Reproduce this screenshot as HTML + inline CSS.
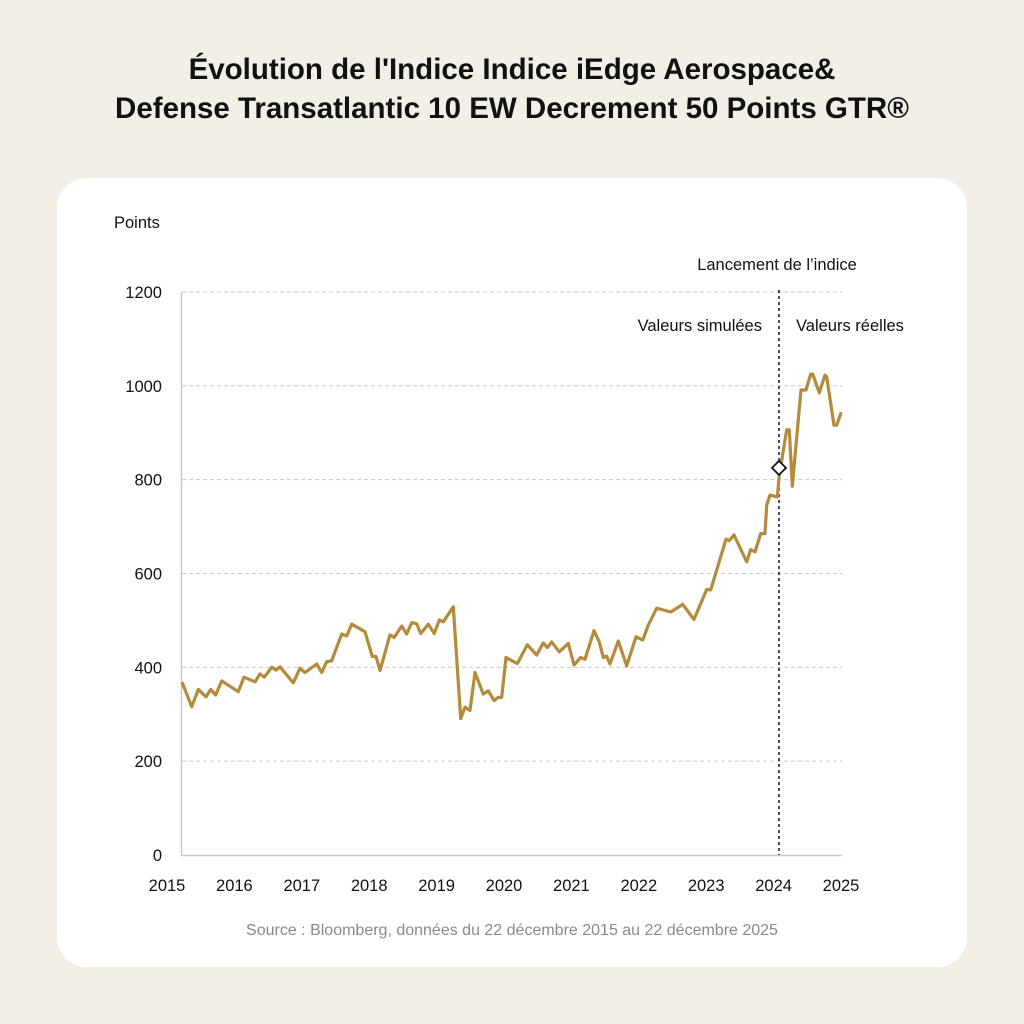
<!DOCTYPE html>
<html><head><meta charset="utf-8"><style>
html,body{margin:0;padding:0;width:1024px;height:1024px;background:#f3efe6;overflow:hidden;font-family:"Liberation Sans",sans-serif;}
#title{position:absolute;left:0;top:50px;width:1024px;text-align:center;font-size:29.5px;line-height:39px;color:#111;font-weight:bold;}
#card{position:absolute;left:57px;top:178px;width:910px;height:789px;background:#fff;border-radius:30px;}
svg{position:absolute;left:0;top:0;}
</style></head><body>
<div id="title">Évolution de l'Indice Indice iEdge Aerospace&amp;<br>Defense Transatlantic 10 EW Decrement 50 Points GTR®</div>
<div id="card"></div>
<svg id="chart" width="1024" height="1024"></svg>
<script>
const yearLabels=["2015","2016","2017","2018","2019","2020","2021","2022","2023","2024","2025"];
const yTicks=[0,200,400,600,800,1000,1200];
const tOffsets=[0.23,0.366,0.464,0.579,0.648,0.723,0.812,1.058,1.142,1.306,1.380,1.444,1.553,1.617,1.677,1.874,1.973,2.047,2.221,2.295,2.369,2.444,2.592,2.666,2.740,2.938,3.046,3.101,3.160,3.309,3.372,3.482,3.556,3.630,3.705,3.764,3.877,3.966,4.040,4.099,4.248,4.358,4.421,4.496,4.570,4.693,4.767,4.852,4.915,4.966,5.030,5.197,5.346,5.485,5.583,5.642,5.708,5.821,5.954,6.039,6.138,6.202,6.335,6.414,6.473,6.524,6.573,6.696,6.821,6.958,7.058,7.141,7.266,7.473,7.651,7.819,8.007,8.067,8.294,8.343,8.412,8.601,8.660,8.724,8.809,8.872,8.898,8.947,9.055,9.085,9.194,9.233,9.278,9.407,9.481,9.550,9.580,9.678,9.763,9.788,9.896,9.936,9.996];
const values=[366,316,353,337,353,341,371,348,379,369,386,379,400,394,401,367,398,389,407,389,412,414,471,467,492,476,423,423,393,469,464,488,471,495,493,472,492,472,501,497,529,291,315,308,389,343,350,329,336,336,421,408,448,426,452,442,454,433,451,405,421,417,478,454,421,424,407,456,403,465,458,490,526,518,534,502,566,565,673,670,682,625,651,646,685,685,746,767,763,810,906,906,786,991,991,1025,1025,985,1023,1019,916,916,941];
const launchT=9.08, launchV=825;
const NS="http://www.w3.org/2000/svg";
const svg=document.getElementById('chart');
const X=t=>167+t*67.4;
const Y=v=>855-v*0.4692;
function mk(tag,attrs,txt){const e=document.createElementNS(NS,tag);for(const k in attrs)e.setAttribute(k,attrs[k]);if(txt!==undefined)e.textContent=txt;svg.appendChild(e);return e;}
const F='"Liberation Sans",sans-serif';
yTicks.forEach(v=>{
  if(v>0){const g=mk('line',{x1:182,x2:842,y1:Y(v),y2:Y(v),stroke:'#c8c8c8','stroke-width':1,'stroke-dasharray':'4,3'});
  
  }
  const l=mk('text',{x:162,y:Y(v)+6,'text-anchor':'end','font-size':16.5,fill:'#111','font-family':F},String(v));
  
  
});
const ax=mk('path',{d:'M181.5 292 V855.5 H842',fill:'none',stroke:'#c8c8c8','stroke-width':1.5});


yearLabels.forEach((s,i)=>{
  const l=mk('text',{x:X(i),y:891,'text-anchor':'middle','font-size':16.5,fill:'#111','font-family':F},s);
  
  
});
const yt=mk('text',{x:114,y:228,'font-size':16.5,fill:'#111','font-family':F},'Points');


const vl=mk('line',{x1:X(launchT),x2:X(launchT),y1:290,y2:855,stroke:'#111','stroke-width':1.5,'stroke-dasharray':'3,3'});


const t1=mk('text',{x:777,y:270,'text-anchor':'middle','font-size':16.5,fill:'#111','font-family':F},'Lancement de l\u2019indice');


const t2=mk('text',{x:762,y:331,'text-anchor':'end','font-size':16.5,fill:'#111','font-family':F},'Valeurs simulées');


const t3=mk('text',{x:796,y:331,'font-size':16.5,fill:'#111','font-family':F},'Valeurs réelles');


const d=tOffsets.map((t,i)=>(i?'L':'M')+X(t).toFixed(1)+' '+Y(values[i]).toFixed(1)).join(' ');
const ln=mk('path',{d:d,fill:'none',stroke:'#b38b3b','stroke-width':3.2,'stroke-linejoin':'round','stroke-linecap':'round'});


const cx=X(launchT),cy=Y(launchV);
const dm=mk('path',{d:`M${cx} ${cy-7} L${cx+7} ${cy} L${cx} ${cy+7} L${cx-7} ${cy} Z`,fill:'#fff',stroke:'#111','stroke-width':1.8});


const src=mk('text',{x:512,y:935,'text-anchor':'middle','font-size':16,fill:'#8a8a80','font-family':F},'Source : Bloomberg, données du 22 décembre 2015 au 22 décembre 2025');


</script>
</body></html>
